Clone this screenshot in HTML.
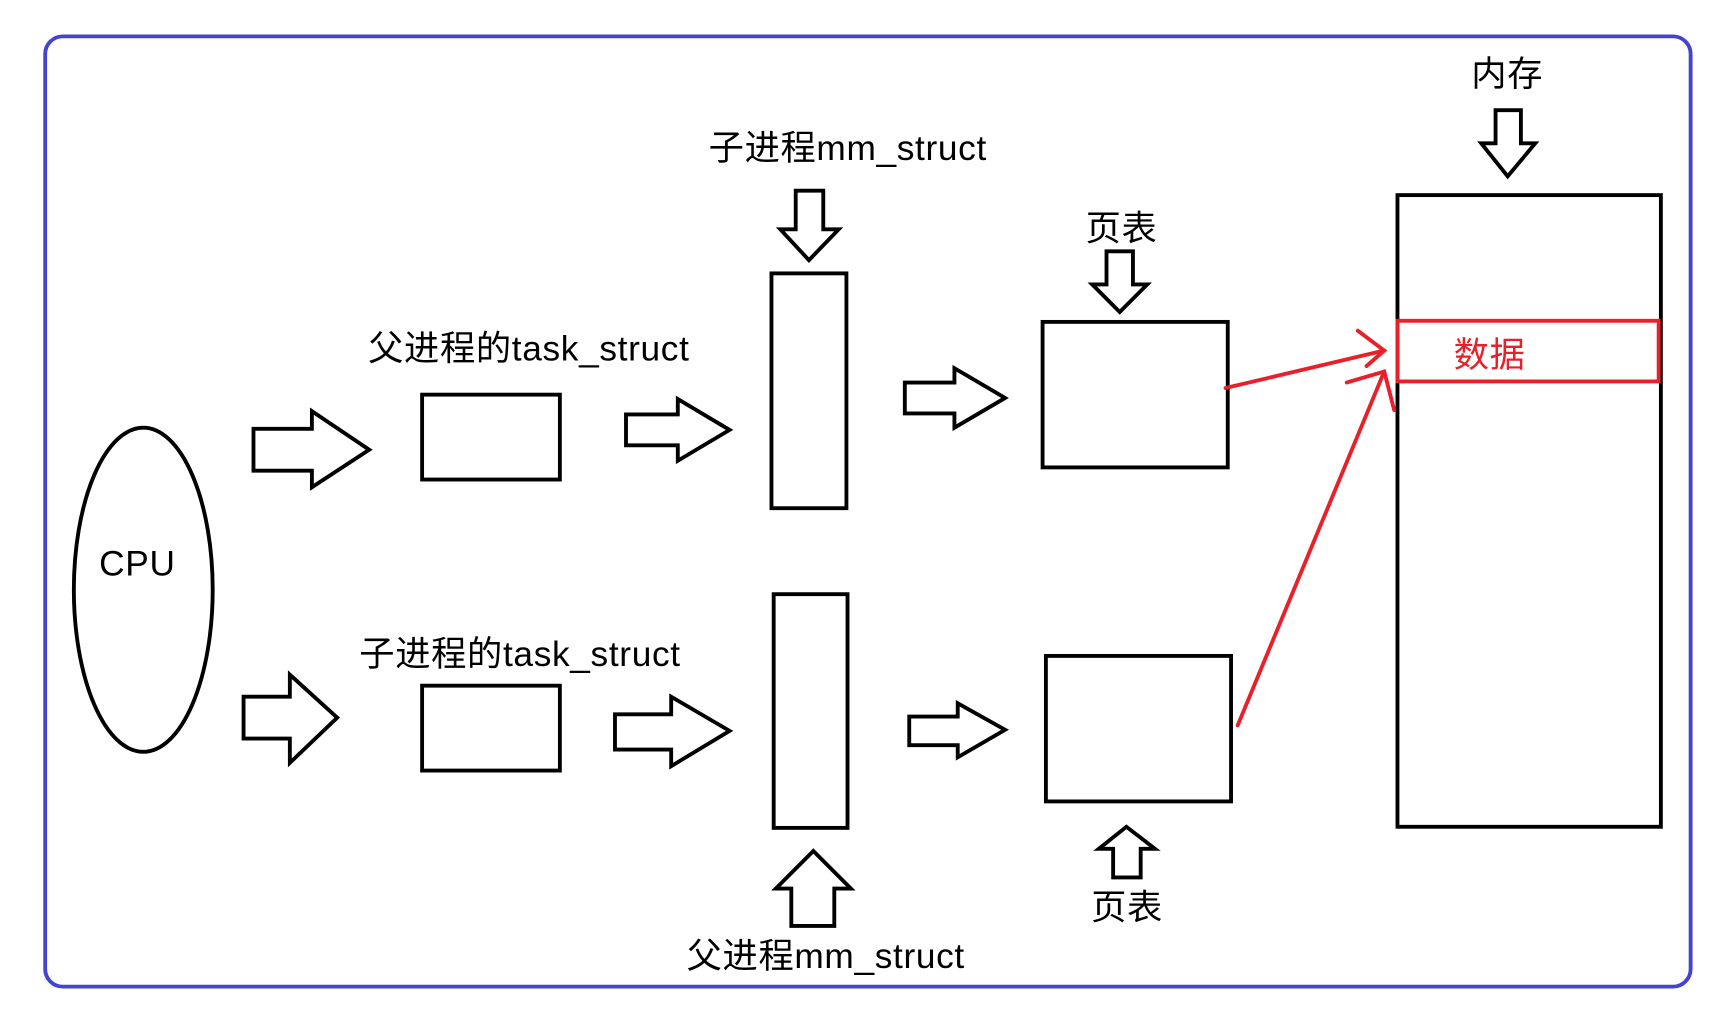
<!DOCTYPE html>
<html><head><meta charset="utf-8"><style>
html,body{margin:0;padding:0;background:#fff;}
svg{display:block}
text{font-family:"Liberation Sans","Noto Sans CJK SC",sans-serif;font-size:32px;fill:#000;letter-spacing:0.6px}
</style></head><body>
<svg width="1727" height="1023" viewBox="0 0 1567 928" preserveAspectRatio="none" xmlns="http://www.w3.org/2000/svg">
<rect x="41" y="33" width="1493" height="862" rx="16" fill="none" stroke="#4444cc" stroke-width="3.5"/>
<g fill="none" stroke="#000" stroke-width="3.5" stroke-linejoin="miter">
<ellipse cx="130" cy="535" rx="63" ry="147"/>
<polygon points="230,389 283,389 283,373 335,408 283,442 283,427 230,427"/>
<rect x="383" y="358" width="125" height="77"/>
<polygon points="568,376 615,376 615,362 662,390 615,418 615,404 568,404"/>
<rect x="700" y="248" width="68" height="213"/>
<polygon points="722,173 747,173 747,208 761,208 734,236 708,208 722,208"/>
<polygon points="821,347 866,347 866,334 912,361 866,388 866,375 821,375"/>
<rect x="946" y="292" width="168" height="132"/>
<polygon points="1004,228 1028,228 1028,258 1041,258 1016,283 991,258 1004,258"/>
<rect x="1268" y="177" width="239" height="573"/>
<polygon points="1357,100 1380,100 1380,130 1393,130 1368,160 1344,130 1357,130"/>
<polygon points="221,632 263,632 263,612 306,651 263,692 263,670 221,670"/>
<rect x="383" y="622" width="125" height="77"/>
<polygon points="558,648 609,648 609,632 662,663 609,695 609,680 558,680"/>
<rect x="702" y="539" width="67" height="212"/>
<polygon points="738,772 772,806 757,806 757,840 718,840 718,806 704,806"/>
<polygon points="825,650 869,650 869,638 912,662 869,687 869,676 825,676"/>
<rect x="949" y="595" width="168" height="132"/>
<polygon points="1022,750 1048,770 1035,770 1035,796 1010,796 1010,770 997,770"/>
</g>
<g fill="none" stroke="#e8202a" stroke-width="3.5" stroke-linecap="round">
<rect x="1268" y="291" width="237" height="55"/>
<line x1="1112" y1="352" x2="1256" y2="318"/>
<polyline points="1232,300 1256,318 1240,332"/>
<line x1="1123" y1="658" x2="1256" y2="337"/>
<polyline points="1222,347 1256,337 1265,372"/>
</g>
<text x="90" y="522">CPU</text>
<text x="334" y="327">父进程的task_struct</text>
<text x="326" y="604">子进程的task_struct</text>
<text x="643" y="145">子进程mm_struct</text>
<text x="623" y="878">父进程mm_struct</text>
<text x="985" y="218">页表</text>
<text x="990" y="834">页表</text>
<text x="1335" y="78">内存</text>
<text x="1319" y="333" style="fill:#e8202a">数据</text>
</svg>
</body></html>
